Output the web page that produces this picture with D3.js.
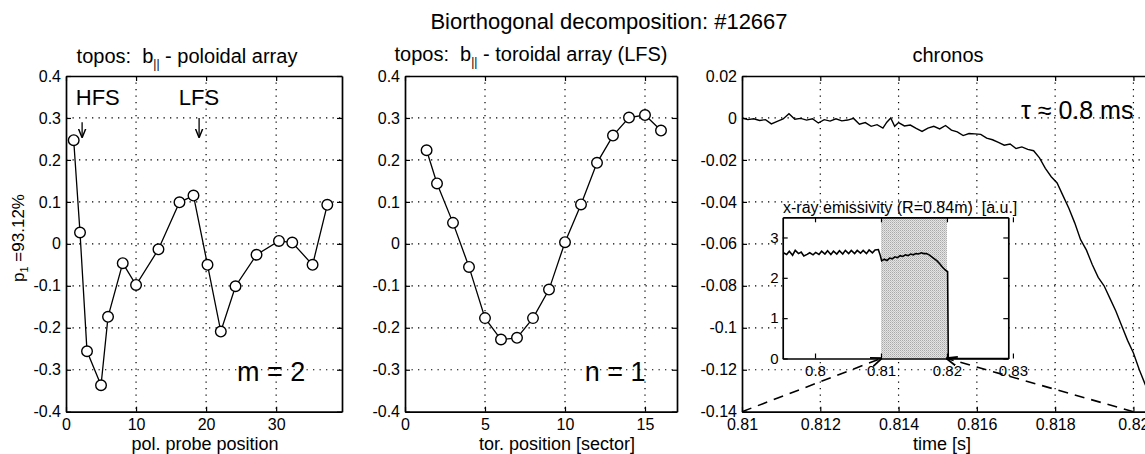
<!DOCTYPE html>
<html>
<head>
<meta charset="utf-8">
<script src="https://cdn.jsdelivr.net/npm/d3@7"></script>
<style>
body { margin: 0; background: #fff; }
svg { font-family: "Liberation Sans", Arial, Helvetica, sans-serif; }
text { white-space: pre; fill: #000; }
</style>
</head>
<body>
<svg id="drawing_region" width="1145" height="454"></svg>
<script>
// poloidal array topos
const polPos = [1.1, 2, 3, 5, 6, 8.1, 10, 13.2, 16.2, 18.2, 20.2, 22.1, 24.2, 27.2, 30.4, 32.3, 35.2, 37.3];
const polVal = [0.247, 0.027, -0.256, -0.337, -0.174, -0.046, -0.098, -0.013, 0.099, 0.115, -0.050, -0.209, -0.101, -0.026, 0.007, 0.003, -0.050, 0.093];

// toroidal array topos
const torPos = [1.35, 2, 3, 4, 5, 6, 7, 8, 9, 10, 11, 12, 13, 14, 15, 16];
const torVal = [0.223, 0.144, 0.050, -0.055, -0.177, -0.228, -0.224, -0.177, -0.109, 0.004, 0.094, 0.193, 0.258, 0.301, 0.307, 0.270];

// chronos
const chrTime = [0.8100, 0.81015, 0.8103, 0.81045, 0.8106, 0.81075, 0.8109, 0.81105, 0.8112, 0.81135,
    0.8115, 0.81165, 0.8118, 0.81195, 0.8121, 0.81225, 0.8124, 0.81255, 0.8127, 0.81285,
    0.8130, 0.81315, 0.8133, 0.81345, 0.8136, 0.8137, 0.8138, 0.8139, 0.8140, 0.81415,
    0.8143, 0.81445, 0.8146, 0.81475, 0.8149, 0.81505, 0.8152, 0.81535, 0.8155, 0.81565,
    0.8158, 0.81595, 0.8161, 0.81625, 0.8164, 0.81655, 0.8167, 0.81685, 0.8170, 0.81715,
    0.8173, 0.81745, 0.8176, 0.81775, 0.8179, 0.81805, 0.8182, 0.81835, 0.8185, 0.81865,
    0.8188, 0.81895, 0.8191, 0.81925, 0.8194, 0.81955, 0.8197, 0.81985, 0.8200, 0.82015,
    0.8203, 0.8204];
const chrVal = [0.0000, -0.0008, -0.0004, -0.0012, -0.0008, -0.0028, -0.0016, -0.0005, 0.0020, -0.0006,
    -0.0002, -0.0010, -0.0004, -0.0024, -0.0008, -0.0015, -0.0004, -0.0014, -0.0010, -0.0002,
    -0.0030, -0.0022, -0.0040, -0.0032, -0.0048, -0.0020, 0.0000, -0.0040, -0.0022, -0.0038,
    -0.0034, -0.0050, -0.0064, -0.0048, -0.0040, -0.0052, -0.0036, -0.0058, -0.0066, -0.0084,
    -0.0074, -0.0076, -0.0078, -0.0096, -0.0104, -0.0116, -0.0130, -0.0124, -0.0146, -0.0138,
    -0.0150, -0.0156, -0.0190, -0.0240, -0.0280, -0.0310, -0.0370, -0.0430, -0.0500, -0.0580,
    -0.0630, -0.0700, -0.0760, -0.0800, -0.0860, -0.0920, -0.0990, -0.1060, -0.1120, -0.1200,
    -0.1270, -0.1310];

// x-ray emissivity inset
const xrTime = [0.7952, 0.7957, 0.7961, 0.7966, 0.7970, 0.7975, 0.7979, 0.7983, 0.7988, 0.7992,
    0.7997, 0.8001, 0.8006, 0.8010, 0.8015, 0.8019, 0.8024, 0.8028, 0.8033, 0.8037,
    0.8042, 0.8046, 0.8051, 0.8055, 0.8060, 0.8064, 0.8069, 0.8073, 0.8078, 0.8082,
    0.8087, 0.8091, 0.8096, 0.8099, 0.8101, 0.8105, 0.8109, 0.8113, 0.8117, 0.8121,
    0.8125, 0.8129, 0.8133, 0.8137, 0.8141, 0.8145, 0.8149, 0.8153, 0.8157, 0.8161,
    0.8165, 0.8169, 0.8173, 0.8177, 0.8181, 0.8185, 0.8189, 0.8193, 0.8197, 0.8201,
    0.8202, 0.8293];
const xrVal = [2.62, 2.58, 2.66, 2.56, 2.68, 2.60, 2.64, 2.54, 2.58, 2.62,
    2.57, 2.63, 2.58, 2.66, 2.59, 2.67, 2.58, 2.66, 2.59, 2.67,
    2.59, 2.68, 2.60, 2.68, 2.60, 2.68, 2.61, 2.68, 2.60, 2.69,
    2.62, 2.69, 2.70, 2.55, 2.42, 2.46, 2.43, 2.49, 2.47, 2.52,
    2.50, 2.55, 2.53, 2.57, 2.55, 2.59, 2.57, 2.60, 2.59, 2.62,
    2.60, 2.60, 2.57, 2.52, 2.47, 2.42, 2.35, 2.27, 2.20, 2.15,
    0.00, 0.00];
const shadeWindow = [0.81, 0.82];

// ticks
const p1XTicks = [0, 10, 20, 30];
const p2XTicks = [0, 5, 10, 15];
const toposYTicks = [-0.4, -0.3, -0.2, -0.1, 0, 0.1, 0.2, 0.3, 0.4];
const p3XTicks = [0.81, 0.812, 0.814, 0.816, 0.818, 0.82];
const p3YTicks = [-0.14, -0.12, -0.1, -0.08, -0.06, -0.04, -0.02, 0, 0.02];
const insetXTicks = [0.8, 0.81, 0.82, 0.83];
const insetYTicks = [0, 1, 2, 3];

const svg = d3.select('#drawing_region');
const fmt = d => String(+d.toFixed(4));

const defs = svg.append('defs');
const pat = defs.append('pattern').attr('id', 'stipple')
    .attr('width', 2).attr('height', 2).attr('patternUnits', 'userSpaceOnUse');
pat.append('rect').attr('width', 2).attr('height', 2).attr('fill', '#e4e4e4');
pat.append('rect').attr('width', 1).attr('height', 1).attr('fill', '#a9a9a9');
pat.append('rect').attr('x', 1).attr('y', 1).attr('width', 1).attr('height', 1).attr('fill', '#c4c4c4');
defs.append('marker').attr('id', 'arrow')
    .attr('viewBox', '0 0 10 10').attr('refX', 9).attr('refY', 5)
    .attr('markerWidth', 7).attr('markerHeight', 7).attr('orient', 'auto')
    .append('path').attr('d', 'M0,1 L10,5 L0,9').attr('fill', 'none').attr('stroke', '#000').attr('stroke-width', 1.6);

// grid + box + inward ticks on all four sides
function frame(g, x, y, xt, yt, opt) {
    const [x0, x1] = x.range(), [y1, y0] = y.range();
    const fs = opt.fontSize || 16;
    if (opt.grid) {
        g.append('g').selectAll('line').data(xt.filter(v => x(v) > x0 + 1 && x(v) < x1 - 1)).join('line')
            .attr('x1', d => x(d)).attr('x2', d => x(d)).attr('y1', y0).attr('y2', y1)
            .attr('stroke', '#000').attr('stroke-width', 1.2).attr('stroke-dasharray', '1.3,5.2');
        g.append('g').selectAll('line').data(yt.filter(v => y(v) > y0 + 1 && y(v) < y1 - 1)).join('line')
            .attr('x1', x0).attr('x2', x1).attr('y1', d => y(d)).attr('y2', d => y(d))
            .attr('stroke', '#000').attr('stroke-width', 1.2).attr('stroke-dasharray', '1.3,5.2');
    }
    const axes = [
        [d3.axisBottom(x).tickValues(xt).tickFormat(fmt).tickPadding(opt.xPad || 7), `translate(0,${y1})`],
        [d3.axisTop(x).tickValues(xt).tickFormat(''), `translate(0,${y0})`],
        [d3.axisLeft(y).tickValues(yt).tickFormat(fmt).tickPadding(opt.yPad || 5), `translate(${x0},0)`],
        [d3.axisRight(y).tickValues(yt).tickFormat(''), `translate(${x1},0)`]
    ];
    axes.forEach(([ax, tr]) => {
        const a = g.append('g').attr('transform', tr)
            .call(ax.tickSizeInner(-5).tickSizeOuter(0));
        a.select('.domain').attr('stroke-width', 1.7);
        a.selectAll('.tick line').attr('stroke-width', 1.2);
        a.selectAll('text').attr('font-size', fs).attr('font-family', null).attr('fill', '#000');
    });
}

function title(g, x, y, parts, size) {
    const t = g.append('text').attr('x', x).attr('y', y).attr('text-anchor', 'middle').attr('font-size', size);
    parts.forEach(p => {
        t.append('tspan').text(p.s).attr('font-size', p.sub ? size * 0.6 : size)
            .attr('dy', p.dy || 0);
    });
    return t;
}

function toposPanel(left, right, pos, val, xMax, xt) {
    const x = d3.scaleLinear().domain([0, xMax]).range([left, right]);
    const y = d3.scaleLinear().domain([-0.4, 0.4]).range([411.7, 76]);
    const g = svg.append('g');
    frame(g, x, y, xt, toposYTicks, { grid: true });
    const pts = pos.map((p, i) => [p, val[i]]);
    g.append('path').datum(pts)
        .attr('d', d3.line().x(d => x(d[0])).y(d => y(d[1])))
        .attr('fill', 'none').attr('stroke', '#000').attr('stroke-width', 1.3);
    g.selectAll('circle.m').data(pts).join('circle').attr('class', 'm')
        .attr('cx', d => x(d[0])).attr('cy', d => y(d[1])).attr('r', 5.3)
        .attr('fill', '#fff').attr('stroke', '#000').attr('stroke-width', 1.4);
    return { g, x, y };
}

// main title
svg.append('text').attr('x', 609).attr('y', 29).attr('text-anchor', 'middle')
    .attr('font-size', 22).text('Biorthogonal decomposition: #12667');

// ---- panel 1: poloidal ----
const p1 = toposPanel(66, 342, polPos, polVal, 39.4, p1XTicks);
title(p1.g, 187, 63, [{ s: 'topos:  b' }, { s: '||', sub: true, dy: 5 }, { s: ' - poloidal array', dy: -5 }], 20);
p1.g.append('text').attr('x', 205).attr('y', 450).attr('text-anchor', 'middle')
    .attr('font-size', 18).text('pol. probe position');
const yl = p1.g.append('text').attr('transform', 'translate(24,238) rotate(-90)')
    .attr('text-anchor', 'middle').attr('font-size', 17);
yl.append('tspan').text('p');
yl.append('tspan').text('1').attr('font-size', 11).attr('dy', 4);
yl.append('tspan').text(' =93.12%').attr('dy', -4);
p1.g.append('text').attr('x', p1.x(24.4)).attr('y', p1.y(-0.328)).attr('font-size', 27).text('m = 2');
// HFS / LFS markers
[['HFS', 1.4, 2.3, 0.29], ['LFS', 16.1, 19.0, 0.30]].forEach(([s, tx, ax, top]) => {
    p1.g.append('text').attr('x', p1.x(tx)).attr('y', p1.y(0.332)).attr('font-size', 22).text(s);
    p1.g.append('line').attr('x1', p1.x(ax)).attr('x2', p1.x(ax))
        .attr('y1', p1.y(top)).attr('y2', p1.y(0.255))
        .attr('stroke', '#000').attr('stroke-width', 1.3).attr('marker-end', 'url(#arrow)');
});

// ---- panel 2: toroidal ----
const p2 = toposPanel(405, 677, torPos, torVal, 17, p2XTicks);
title(p2.g, 531, 61, [{ s: 'topos:  b' }, { s: '||', sub: true, dy: 5 }, { s: ' - toroidal array (LFS)', dy: -5 }], 20);
p2.g.append('text').attr('x', 557).attr('y', 450).attr('text-anchor', 'middle')
    .attr('font-size', 18).text('tor. position [sector]');
p2.g.append('text').attr('x', p2.x(11.24)).attr('y', p2.y(-0.328)).attr('font-size', 27).text('n = 1');

// ---- panel 3: chronos ----
const x3 = d3.scaleLinear().domain([0.81, 0.8205]).range([742, 1153]);
const y3 = d3.scaleLinear().domain([-0.14, 0.02]).range([411.7, 76]);
const g3 = svg.append('g');
frame(g3, x3, y3, p3XTicks, p3YTicks, { grid: true });
g3.append('path').datum(chrTime.map((t, i) => [t, chrVal[i]]))
    .attr('d', d3.line().x(d => x3(d[0])).y(d => y3(d[1])))
    .attr('fill', 'none').attr('stroke', '#000').attr('stroke-width', 1.4);
title(g3, 948, 62, [{ s: 'chronos' }], 20);
g3.append('text').attr('x', 942).attr('y', 450).attr('text-anchor', 'middle')
    .attr('font-size', 18).text('time [s]');
g3.append('text').attr('x', x3(0.82)).attr('y', y3(-0.0006)).attr('text-anchor', 'end')
    .attr('font-size', 25).text('τ ≈ 0.8 ms');

// inset
const xi = d3.scaleLinear().domain([0.7951, 0.8293]).range([782.7, 1008.3]);
const yi = d3.scaleLinear().domain([0, 3.5]).range([358.5, 217.3]);
const gi = svg.append('g');
gi.append('rect').attr('x', 782.7).attr('y', 217.3).attr('width', 1008.3 - 782.7).attr('height', 358.5 - 217.3)
    .attr('fill', '#fff');
gi.append('rect').attr('x', xi(shadeWindow[0])).attr('y', yi(3.5))
    .attr('width', xi(shadeWindow[1]) - xi(shadeWindow[0])).attr('height', yi(0) - yi(3.5))
    .attr('fill', 'url(#stipple)');
gi.append('path').datum(xrTime.map((t, i) => [t, xrVal[i]]))
    .attr('d', d3.line().x(d => xi(d[0])).y(d => yi(d[1])))
    .attr('fill', 'none').attr('stroke', '#000').attr('stroke-width', 1.6);
frame(gi, xi, yi, insetXTicks, insetYTicks, { grid: false, fontSize: 15, xPad: 7, yPad: 4 });
gi.append('text').attr('x', 783).attr('y', 213).attr('font-size', 16)
    .text('x-ray emissivity (R=0.84m)  [a.u.]');

// zoom lines from chronos window to the inset
shadeWindow.forEach(t => {
    svg.append('line')
        .attr('x1', x3(t)).attr('y1', y3(-0.14))
        .attr('x2', xi(t)).attr('y2', yi(0))
        .attr('stroke', '#000').attr('stroke-width', 1.6).attr('stroke-dasharray', '10,7')
        .attr('marker-end', 'url(#arrow)');
});
</script>
</body>
</html>
